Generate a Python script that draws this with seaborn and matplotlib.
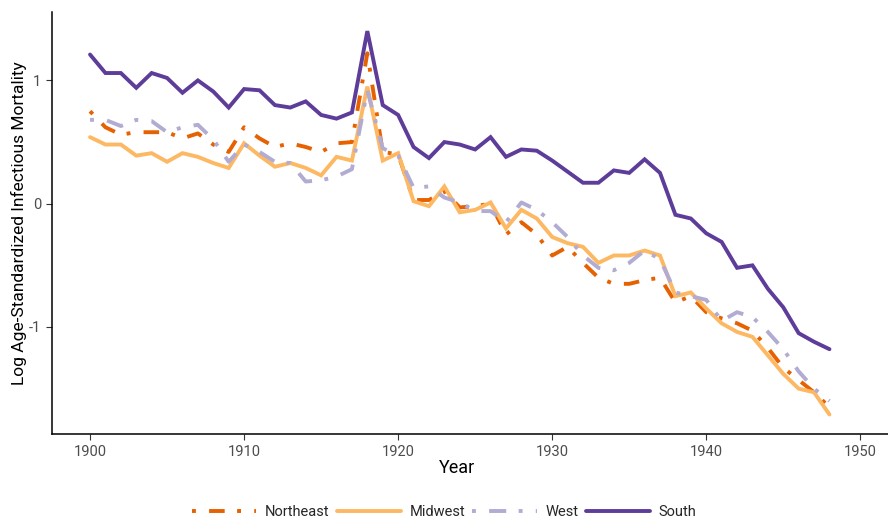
import numpy as np
import pandas as pd
import matplotlib
matplotlib.use('Agg')
import matplotlib.pyplot as plt
import seaborn as sns

# Dados (log da mortalidade infecciosa padronizada por idade)
years = list(range(1900, 1949))

northeast = [0.75, 0.62, 0.56, 0.58, 0.58, 0.58, 0.53, 0.57, 0.48, 0.42,
             0.62, 0.53, 0.46, 0.49, 0.46, 0.42, 0.49, 0.50, 1.22, 0.42,
             0.40, 0.03, 0.03, 0.10, -0.03, -0.02, 0.00, -0.25, -0.15, -0.25,
             -0.42, -0.35, -0.48, -0.60, -0.65, -0.65, -0.62, -0.60, -0.80, -0.75,
             -0.88, -0.93, -0.97, -1.03, -1.17, -1.33, -1.43, -1.53, -1.65]

midwest = [0.54, 0.48, 0.48, 0.39, 0.41, 0.34, 0.41, 0.38, 0.33, 0.29,
           0.49, 0.39, 0.30, 0.33, 0.29, 0.23, 0.38, 0.35, 0.95, 0.35,
           0.41, 0.02, -0.02, 0.14, -0.07, -0.05, 0.01, -0.20, -0.05, -0.12,
           -0.27, -0.32, -0.35, -0.48, -0.42, -0.42, -0.38, -0.42, -0.75, -0.72,
           -0.85, -0.97, -1.04, -1.08, -1.23, -1.38, -1.50, -1.53, -1.71]

west = [0.68, 0.68, 0.63, 0.68, 0.67, 0.58, 0.62, 0.64, 0.52, 0.34,
        0.48, 0.42, 0.34, 0.33, 0.18, 0.19, 0.22, 0.28, 0.92, 0.45,
        0.39, 0.13, 0.14, 0.05, 0.01, -0.06, -0.06, -0.15, 0.01, -0.05,
        -0.15, -0.27, -0.42, -0.52, -0.54, -0.48, -0.38, -0.45, -0.72, -0.75,
        -0.78, -0.95, -0.88, -0.92, -1.04, -1.18, -1.36, -1.50, -1.60]

south = [1.21, 1.06, 1.06, 0.94, 1.06, 1.02, 0.90, 1.00, 0.91, 0.78,
         0.93, 0.92, 0.80, 0.78, 0.83, 0.72, 0.69, 0.74, 1.40, 0.80,
         0.72, 0.46, 0.37, 0.50, 0.48, 0.44, 0.54, 0.38, 0.44, 0.43,
         0.35, 0.26, 0.17, 0.17, 0.27, 0.25, 0.36, 0.25, -0.09, -0.12,
         -0.24, -0.31, -0.52, -0.50, -0.69, -0.84, -1.05, -1.12, -1.18]

regions = ['Northeast', 'Midwest', 'West', 'South']
colors = {'Northeast': '#e66101', 'Midwest': '#fdb863',
          'West': '#b2abd2', 'South': '#5e3c99'}
dashes = {'Northeast': (1, 3.4, 4, 3.2), 'Midwest': '',
          'West': (1, 3.4, 4.4, 3.2), 'South': ''}

df = pd.DataFrame({'Year': years, 'Northeast': northeast, 'Midwest': midwest,
                   'West': west, 'South': south})
df = df.melt(id_vars='Year', var_name='Region', value_name='value')

sns.set_style('white')
plt.rcParams['font.family'] = ['Roboto', 'DejaVu Sans']
plt.rcParams['axes.unicode_minus'] = False

fig = plt.figure(figsize=(8.88, 5.21), dpi=100)
ax = fig.add_axes([52 / 888, (521 - 434) / 521, (888 - 52) / 888, (434 - 12) / 521])

sns.lineplot(data=df, x='Year', y='value', hue='Region', style='Region',
             hue_order=regions, style_order=regions, palette=colors,
             dashes=dashes, linewidth=2.8, ax=ax, legend=False)
for line in ax.lines:
    line.set_dash_capstyle('butt')
    line.set_solid_joinstyle('miter')

ax.set_xlim(1897.53, 1951.8)
ax.set_ylim(-1.868, 1.555)
ax.set_xticks([1900, 1910, 1920, 1930, 1940, 1950])
ax.set_yticks([-1, 0, 1])
ax.set_yticklabels(['-1', '0', '1'])

for s in ['top', 'right']:
    ax.spines[s].set_visible(False)
for s in ['left', 'bottom']:
    ax.spines[s].set_color('black')
    ax.spines[s].set_linewidth(1.1)
ax.tick_params(axis='both', which='both', direction='out', length=4, width=0.8,
               color='#333333', labelsize=10.5, labelcolor='#4d4d4d', pad=4,
               bottom=True, left=True)

ax.set_xlabel('Year', fontsize=13, color='black')
ax.set_ylabel('Log Age-Standardized Infectious Mortality', fontsize=12.5,
              color='black')
ax.xaxis.set_label_coords(0.485, -0.06)
ax.yaxis.set_label_coords(-0.03, 0.5)

# Legenda manual em baixo, horizontal
handles = []
for r in regions:
    h, = ax.plot([], [], color=colors[r], linewidth=2.8)
    if dashes[r]:
        h.set_dashes(dashes[r])
        h.set_dash_capstyle('butt')
    handles.append(h)
fig.legend(handles, regions, loc='lower center', bbox_to_anchor=(0.5, -0.022),
           ncol=4, frameon=False, fontsize=10.5, handlelength=4.4,
           columnspacing=0.5, handletextpad=0.6)

plt.savefig('out.png', dpi=100)
